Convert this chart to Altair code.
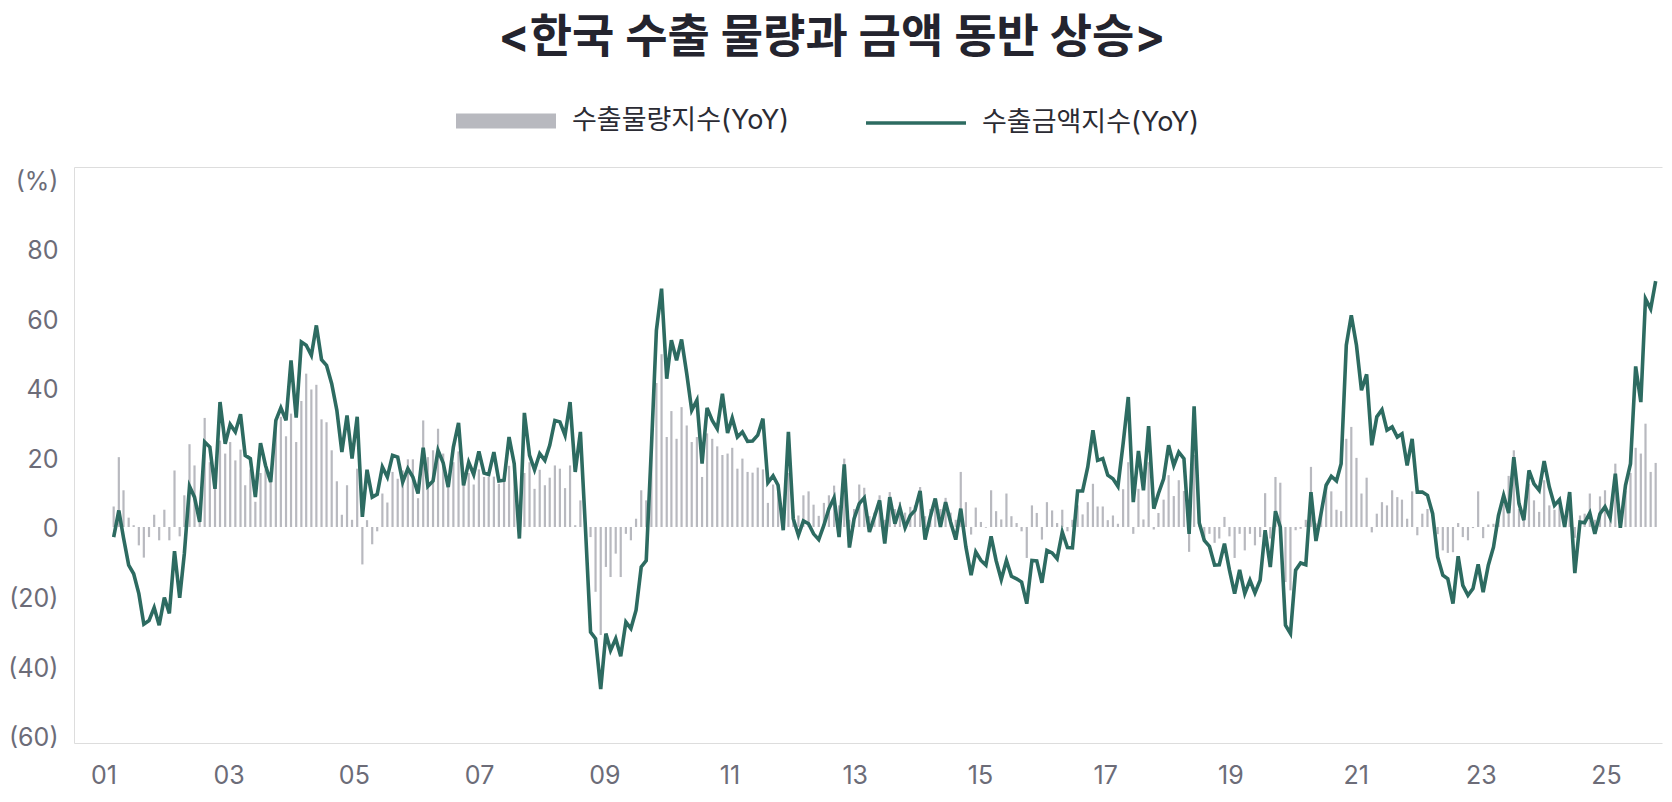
import altair as alt
import pandas as pd

# ---------------- data ----------------
title_text = "<한국 수출 물량과 금액 동반 상승>"
vol_name = "수출물량지수(YoY)"
val_name = "수출금액지수(YoY)"

# monthly, Jan 2001 .. May 2026
value_yoy = [
    -2.8, 4.6, -3.0, -10.6, -13.0, -18.5, -27.0, -26.0, -22.4, -27.3, -19.6, -24.0,
    -6.7, -19.7, -7.4, 11.3, 8.3, 1.4, 23.6, 22.2, 10.6, 34.7, 23.1, 28.5,
    26.4, 31.3, 19.9, 19.0, 8.3, 23.3, 17.1, 12.5, 29.6, 33.1, 29.6, 46.3,
    30.4, 51.4, 50.5, 47.7, 56.0, 46.5, 44.9, 39.8, 32.4, 20.8, 31.0, 19.0,
    30.6, 2.8, 15.9, 8.3, 9.1, 16.7, 13.9, 19.9, 19.4, 12.5, 16.2, 13.9,
    9.3, 22.0, 11.3, 12.8, 21.3, 17.8, 11.1, 22.2, 28.9, 11.6, 18.0, 14.6,
    21.0, 15.0, 14.6, 20.8, 12.8, 13.0, 25.0, 17.6, -3.2, 31.7, 19.9, 15.9,
    20.4, 18.5, 22.7, 29.6, 29.2, 25.5, 34.7, 15.3, 26.4, 0.0, -29.2, -31.0,
    -45.0, -29.6, -34.3, -31.0, -35.9, -26.4, -28.2, -23.1, -11.1, -9.3, 22.0, 54.6,
    66.2, 41.2, 51.9, 46.3, 52.1, 42.6, 32.4, 35.2, 17.6, 33.1, 29.6, 27.3,
    37.0, 26.1, 30.3, 25.0, 26.4, 23.8, 23.9, 25.5, 30.1, 12.3, 14.2, 11.6,
    -0.9, 26.4, 2.3, -2.3, 1.7, 0.9, -1.9, -3.5, 0.5, 5.1, 8.1, -2.8,
    17.4, -5.7, 2.3, 6.5, 8.1, -1.4, 2.8, 7.4, -4.6, 8.3, 0.9, 5.3,
    -0.2, 3.2, 4.6, 10.0, -3.5, 2.8, 7.9, 0.0, 6.9, 1.4, -3.5, 5.1,
    -5.6, -13.4, -6.9, -9.3, -10.6, -2.6, -9.3, -14.6, -9.3, -13.7, -14.4, -15.3,
    -21.3, -9.3, -9.4, -15.5, -6.5, -7.2, -8.8, -1.4, -5.7, -5.8, 10.0, 10.0,
    16.7, 26.9, 18.5, 19.0, 14.4, 13.4, 11.3, 23.1, 36.1, 6.9, 21.1, 10.2,
    28.0, 5.1, 9.3, 13.4, 22.7, 17.1, 20.8, 19.0, -1.9, 33.5, 1.1, -3.7,
    -5.4, -10.6, -10.5, -4.6, -12.0, -18.5, -11.9, -18.5, -14.8, -18.3, -14.8, -0.9,
    -11.1, 4.4, 0.0, -27.3, -29.6, -12.0, -10.0, -10.5, 9.7, -3.9, 3.9, 11.6,
    14.1, 12.8, 17.6, 50.5, 58.8, 50.5, 38.0, 42.4, 22.7, 30.6, 32.6, 26.9,
    27.8, 25.0, 25.9, 17.1, 24.5, 9.7, 9.7, 8.8, 3.7, -8.3, -13.4, -14.4,
    -21.3, -8.1, -16.2, -19.0, -17.1, -10.4, -18.1, -10.6, -5.6, 3.2, 8.8, 3.9,
    19.4, 6.5, 1.9, 15.7, 12.0, 10.2, 18.3, 11.1, 6.0, 7.6, 0.0, 9.7,
    -12.8, 1.4, 1.2, 3.9, -1.9, 3.7, 5.6, 2.6, 14.8, -0.2, 11.6, 17.6,
    44.6, 34.7, 63.4, 60.6, 68.3,
]

volume_yoy = [
    5.7, 19.4, 10.2, 2.6, 0.5, -5.1, -8.5, -2.8, 3.4, -3.7, 4.8, -3.7,
    15.7, -2.6, 8.8, 23.0, 17.1, 6.0, 30.3, 18.0, 11.0, 24.0, 20.4, 23.6,
    18.5, 21.5, 11.6, 16.0, 7.0, 15.0, 16.0, 15.0, 29.0, 30.6, 25.2, 31.5,
    23.6, 35.0, 42.6, 38.2, 39.5, 29.9, 29.1, 21.3, 12.7, 3.4, 11.6, 2.0,
    16.2, -10.4, 1.9, -4.8, -1.2, 9.3, 6.8, 15.3, 13.4, 15.7, 18.8, 18.8,
    8.0, 29.6, 19.4, 21.3, 27.3, 20.4, 14.0, 18.0, 21.0, 13.0, 15.0, 11.8,
    16.0, 13.9, 14.0, 14.0, 12.0, 14.0, 17.0, 16.0, 5.0, 15.0, 18.0, 10.6,
    15.9, 11.6, 13.7, 17.1, 16.2, 10.8, 17.1, 0.5, 7.4, -1.0, -2.8, -18.0,
    -30.0, -11.1, -13.9, -7.4, -13.9, -1.9, -3.7, 2.3, 10.2, 7.4, 22.0, 40.0,
    48.0, 25.0, 32.2, 24.5, 33.3, 28.2, 23.6, 25.0, 13.9, 26.0, 24.5, 22.4,
    20.0, 20.4, 22.0, 16.2, 19.0, 15.3, 15.1, 16.5, 16.0, 6.7, 11.8, 11.0,
    3.0, 15.0, 2.8, 3.2, 8.8, 9.9, 6.2, 3.1, 6.7, 8.8, 11.5, 6.0,
    19.0, 2.0, 5.0, 11.8, 10.9, 3.0, 4.0, 8.8, 2.0, 9.7, 5.0, 7.0,
    4.0, 5.6, 6.0, 11.1, 3.0, 5.0, 7.0, 5.0, 8.1, 4.0, 2.0, 15.3,
    6.9, -2.1, 5.4, 1.4, -0.2, 10.2, 4.4, 2.1, 9.3, 3.0, 1.1, -1.2,
    -8.6, 6.0, 3.9, -3.5, 6.9, 4.6, 1.1, 4.8, -1.2, 2.0, 6.0, 3.5,
    6.9, 12.0, 5.7, 5.7, 1.9, 3.2, 0.9, 10.5, 18.0, -1.9, 10.6, 2.1,
    18.0, -0.7, 3.9, 7.6, 14.4, 8.6, 13.0, 10.0, -6.9, 20.0, 1.4, -2.8,
    -1.9, -4.4, -3.2, 2.8, -2.6, -8.6, -1.9, -6.5, -1.9, -5.1, -2.8, 9.4,
    -3.2, 13.9, 12.3, -15.3, -17.6, -0.9, -0.5, 2.0, 16.7, 1.0, 5.0, 12.0,
    9.9, 4.8, 4.4, 24.5, 27.8, 19.2, 9.3, 13.7, -1.5, 3.7, 6.9, 6.0,
    10.2, 8.3, 7.6, 2.3, 9.9, -2.3, 3.7, 5.0, 0.0, -2.0, -6.5, -7.2,
    -7.0, 1.1, -2.8, -3.7, -0.3, 9.9, -3.1, 0.7, 0.9, 1.9, 9.3, 14.2,
    21.3, 5.0, 3.0, 12.0, 7.4, 4.2, 13.0, 6.0, 4.8, 8.0, 2.0, 8.0,
    -3.0, 3.2, 3.7, 9.3, 2.0, 8.5, 10.2, 5.0, 17.6, 3.0, 10.0, 15.0,
    22.0, 20.4, 28.7, 15.3, 17.8,
]

y_ticks = [-60, -40, -20, 0, 20, 40, 60, 80, 100]
x_tick_years = list(range(2001, 2026, 2))
x_label_years = list(range(1, 26, 2))

# ---------------- frames ----------------
months = pd.date_range("2001-01-15", periods=len(value_yoy), freq=pd.DateOffset(months=1))
df = pd.DataFrame({
    "date": [d.strftime("%Y-%m-%d") for d in months],
    "val": value_yoy,
    "vol": volume_yoy,
})

FONT_NUM = "Inter, Noto Sans CJK KR"
LABEL_GRAY = "#6c6c78"
W, H = 1589, 576

xscale = alt.Scale(
    type="utc",
    domain=[alt.DateTime(year=2000, month=6, date=21, utc=True),
            alt.DateTime(year=2026, month=5, date=29, utc=True)],
)
yscale = alt.Scale(domain=[-60, 100], nice=False, zero=False)

solid_test = "datum.value === 100 || datum.value === -60"

x_axis_zero = alt.Axis(
    values=[alt.DateTime(year=y, month=1, date=1, utc=True) for y in x_tick_years],
    orient="bottom", offset=-216, title=None, labels=False, grid=False,
    domain=True, domainColor="#8f8f8f", domainWidth=1.5,
    ticks=True, tickColor="#8f8f8f", tickWidth=1.5, tickSize=11,
)
# left domain drawn in white so no vertical frame line shows at the plot edge
y_axis_grid = alt.Axis(
    values=y_ticks, title=None, labels=False, ticks=False,
    domain=True, domainColor="white", domainWidth=3,
    grid=True,
    gridColor={"condition": {"test": solid_test, "value": "#d4d7df"}, "value": "#cfd2dc"},
    gridDash={"condition": {"test": solid_test, "value": [1, 0]}, "value": [3, 4]},
    gridWidth=1.3,
)

base = alt.Chart(df)

bars = base.transform_calculate(series=f"'{vol_name}'").mark_bar(size=2.2).encode(
    x=alt.X("date:T", scale=xscale, axis=x_axis_zero),
    y=alt.Y("vol:Q", scale=yscale, axis=y_axis_grid),
    color=alt.Color(
        "series:N",
        scale=alt.Scale(domain=[vol_name], range=["#b8b9bf"]),
        legend=alt.Legend(
            orient="none", legendX=382, legendY=-96, title=None, padding=0,
            symbolType="M-1,-0.15L1,-0.15L1,0.15L-1,0.15Z", symbolSize=10000,
            symbolStrokeWidth=0, symbolOpacity=1, labelOffset=16, labelLimit=500,
            labelFont=FONT_NUM, labelFontSize=27, labelColor="#2b2b33",
        ),
    ),
)

line = base.transform_calculate(series=f"'{val_name}'").mark_line(strokeWidth=3.6).encode(
    x=alt.X("date:T", scale=xscale, axis=None),
    y=alt.Y("val:Q", scale=yscale, axis=None),
    stroke=alt.Stroke(
        "series:N",
        scale=alt.Scale(domain=[val_name], range=["#2d6b61"]),
        legend=alt.Legend(
            orient="none", legendX=790, legendY=-96, title=None, padding=0,
            symbolType="stroke", symbolSize=10000, symbolStrokeWidth=3.3,
            labelOffset=14, labelLimit=500, labelFont=FONT_NUM, labelFontSize=27,
            labelColor="#2b2b33",
        ),
    ),
)

inner = alt.layer(bars, line)

# label axes (positions of the labels as laid out in the reference)
helper = alt.Chart(pd.DataFrame({"xl": [13], "yl": [20]})).mark_point(opacity=0).encode(
    x=alt.X("xl:Q", scale=alt.Scale(domain=[0.53, 25.91], nice=False, zero=False),
            axis=alt.Axis(values=x_label_years, orient="bottom", title=None,
                          labelExpr="(datum.value < 10 ? '0' : '') + datum.value",
                          ticks=False, domain=False, grid=False, labelPadding=20,
                          labelFont=FONT_NUM, labelFontSize=25, labelColor=LABEL_GRAY)),
    y=alt.Y("yl:Q", scale=alt.Scale(domain=[-61.55, 104.1], nice=False, zero=False),
            axis=alt.Axis(values=y_ticks, orient="left", title=None,
                          labelExpr="datum.value == 100 ? '(%)' : (datum.value < 0 ? '(' + (-datum.value) + ')' : '' + datum.value)",
                          ticks=False, domain=False, grid=False, labelPadding=16,
                          labelFont=FONT_NUM, labelFontSize=25, labelColor=LABEL_GRAY)),
)

# right edge: a white domain line hides the frame line on the right side
edge_right = alt.Chart(pd.DataFrame({"ye": [0]})).mark_point(opacity=0).encode(
    y=alt.Y("ye:Q", scale=alt.Scale(domain=[-1, 1]),
            axis=alt.Axis(orient="right", title=None, labels=False, ticks=False, grid=False,
                          domain=True, domainColor="white", domainWidth=3)),
)

chart = alt.layer(inner, helper, edge_right).resolve_scale(x="independent", y="independent").properties(
    width=W, height=H,
    title=alt.TitleParams(text=title_text, font=FONT_NUM, fontSize=46, fontWeight="bold",
                          color="#24242e", anchor="middle", dx=-36.5, offset=9),
    autosize=alt.AutoSizeParams(type="none"),
    padding={"left": 66, "top": 159, "right": 0, "bottom": 47},
).configure(background="white")

chart.save("out.html", embed_options={"renderer": "svg", "actions": False})
